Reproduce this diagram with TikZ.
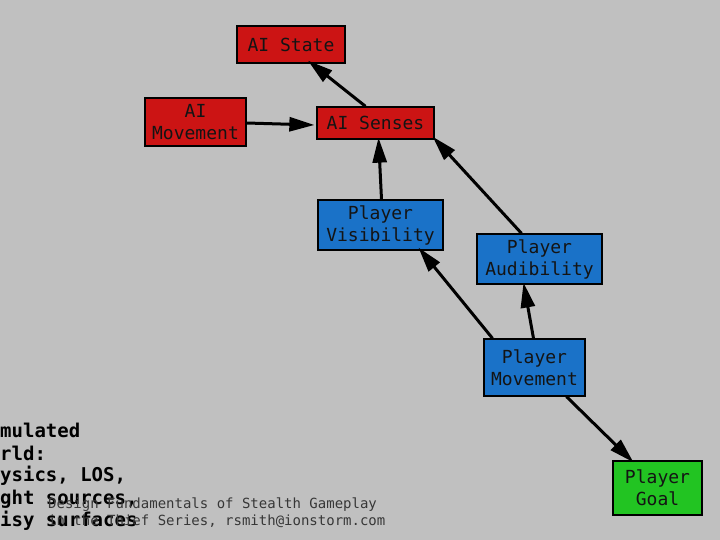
\documentclass[tikz,border=0pt]{standalone}
\usepackage{fontspec}
\setmonofont{DejaVu Sans Mono}
\usetikzlibrary{arrows.meta}
\definecolor{bg}{RGB}{192,192,192}
\definecolor{aired}{RGB}{204,20,20}
\definecolor{plblue}{RGB}{26,114,200}
\definecolor{plgreen}{RGB}{34,196,34}
\definecolor{txt}{RGB}{20,20,20}
\begin{document}
\begin{tikzpicture}[x=1pt,y=-1pt,
  box/.style={draw=black,line width=1.3pt,inner sep=0pt,align=center,
    font=\fontsize{18}{22}\selectfont\ttfamily,text=txt},
  redbox/.style={box,fill=aired},
  bluebox/.style={box,fill=plblue},
  greenbox/.style={box,fill=plgreen},
  conn/.style={line width=3pt,-{Triangle[length=25pt,width=14pt]}},
  side/.style={anchor=west,font=\fontsize{19}{23}\selectfont\ttfamily\bfseries,text=black,inner sep=0pt},
  foot/.style={anchor=west,font=\fontsize{14}{16}\selectfont\ttfamily,text=txt!85,inner sep=0pt}]
\fill[bg] (0,0) rectangle (720,540);
\useasboundingbox (0,0) rectangle (720,540);

\node[redbox,minimum width=108pt,minimum height=37pt] (state) at (291,44.5) {AI State};
\node[redbox,minimum width=101pt,minimum height=48pt] (aimove) at (195.5,122) {AI\\Movement};
\node[redbox,minimum width=117pt,minimum height=32pt] (senses) at (375.5,123) {AI Senses};
\node[bluebox,minimum width=125pt,minimum height=50pt] (vis) at (380.5,225) {Player\\Visibility};
\node[bluebox,minimum width=125pt,minimum height=50pt] (aud) at (539.5,259) {Player\\Audibility};
\node[bluebox,minimum width=101pt,minimum height=57pt] (pmove) at (534.5,367.5) {Player\\Movement};
\node[greenbox,minimum width=89pt,minimum height=54pt] (goal) at (657.5,488) {Player\\Goal};

\draw[conn] ([xshift=-10pt]senses.north) -- ([xshift=17pt,yshift=3pt]state.south);
\draw[conn] ([yshift=-1pt]aimove.east) -- ([xshift=-2pt,yshift=-2pt]senses.west);
\draw[conn] ([xshift=1pt]vis.north) -- ([xshift=3pt,yshift=2pt]senses.south);
\draw[conn] ([xshift=-18pt]aud.north) -- ([xshift=-2pt,yshift=3pt]senses.south east);
\draw[conn] ([xshift=-42pt]pmove.north) -- ([xshift=38pt,yshift=3pt]vis.south);
\draw[conn] ([xshift=-1pt]pmove.north) -- ([xshift=-16pt,yshift=2pt]aud.south);
\draw[conn] ([xshift=32pt]pmove.south) -- ([xshift=-24pt,yshift=-2pt]goal.north);

\node[side] (s1) at (0,430) {mulated};
\node[side] (s2) at (0,453) {rld:};
\node[side] (s3) at (0,476) {ysics, LOS,};
\node[side] (s4) at (0,499) {ght sources,};
\node[side] (s5) at (0,521) {isy surfaces};

\node[foot] (f1) at (48,505) {Design Fundamentals of Stealth Gameplay};
\node[foot] (f2) at (48,521) {in the Thief Series, rsmith@ionstorm.com};
\end{tikzpicture}
\end{document}
